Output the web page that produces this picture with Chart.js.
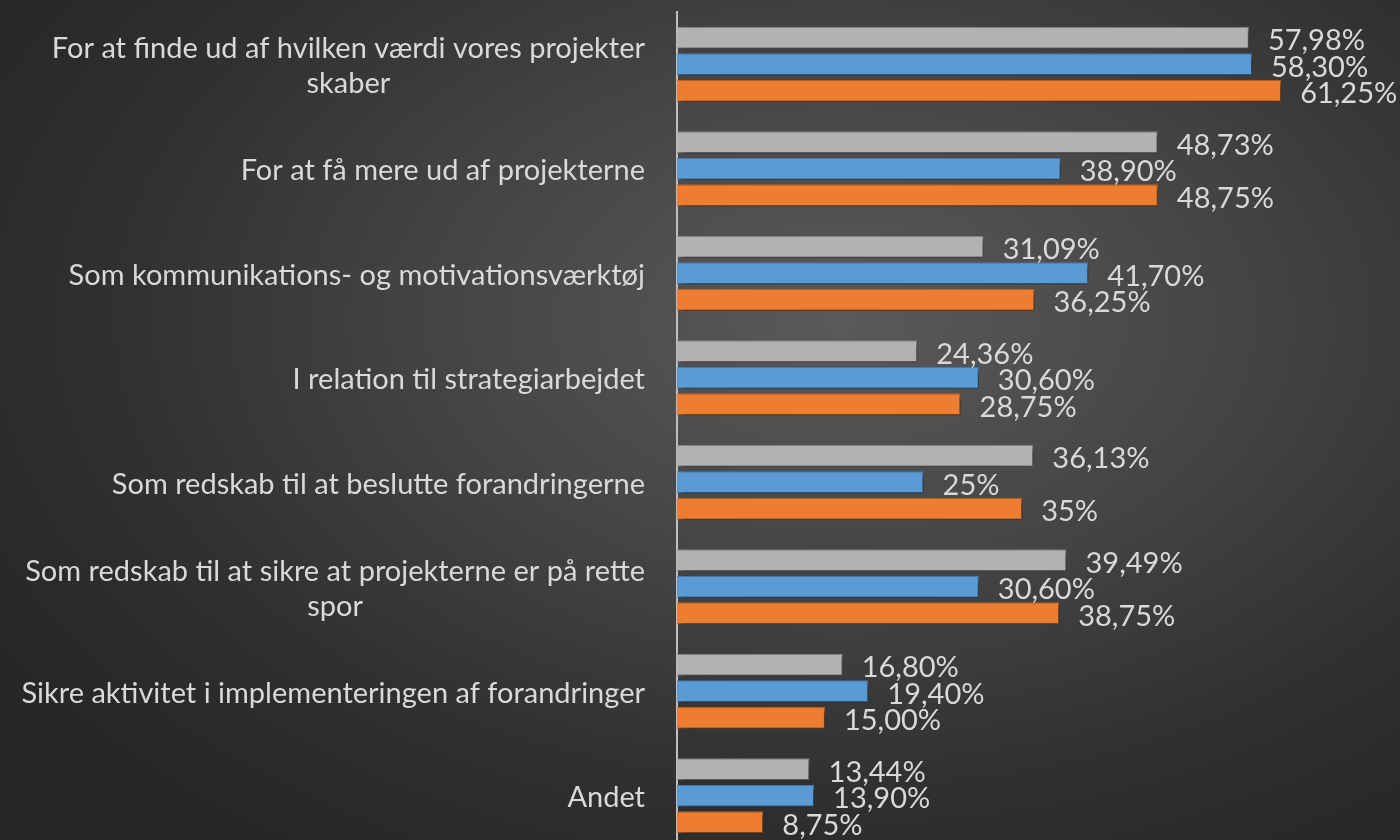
<!DOCTYPE html>
<html>
<head>
<meta charset="utf-8">
<script src="https://cdn.jsdelivr.net/npm/chart.js@4.4.1/dist/chart.umd.min.js"></script>
<style>
  html, body { margin: 0; padding: 0; overflow: hidden; }
  body {
    width: 1400px; height: 840px;
    background: radial-gradient(ellipse 70% 75% at 60% 38%, #5a5a5a 0%, #454545 40%, #303030 75%, #272727 100%);
  }
  #wrap { position: relative; width: 1400px; height: 860px; }
</style>
</head>
<body>
<div id="wrap"><canvas id="grafica"></canvas></div>
<script>
// Kategorier (flere linjer hvor teksten er ombrudt)
const kategorier = [
  ["For at finde ud af hvilken værdi vores projekter", "skaber"],
  ["For at få mere ud af projekterne"],
  ["Som kommunikations- og motivationsværktøj"],
  ["I relation til strategiarbejdet"],
  ["Som redskab til at beslutte forandringerne"],
  ["Som redskab til at sikre at projekterne er på rette", "spor"],
  ["Sikre aktivitet i implementeringen af forandringer"],
  ["Andet"]
];

// Værdier (procent)
const serieGraa = [57.98, 48.73, 31.09, 24.36, 36.13, 39.49, 16.80, 13.44];
const serieBlaa = [58.30, 38.90, 41.70, 30.60, 25, 30.60, 19.40, 13.90];
const serieOrange = [61.25, 48.75, 36.25, 28.75, 35, 38.75, 15.00, 8.75];

// Datalabels som de står i figuren
const labelsGraa = ["57,98%", "48,73%", "31,09%", "24,36%", "36,13%", "39,49%", "16,80%", "13,44%"];
const labelsBlaa = ["58,30%", "38,90%", "41,70%", "30,60%", "25%", "30,60%", "19,40%", "13,90%"];
const labelsOrange = ["61,25%", "48,75%", "36,25%", "28,75%", "35%", "38,75%", "15,00%", "8,75%"];

const skrift = "Lato, 'Open Sans', sans-serif";
const tekstFarve = "#d9d9d9";

// Skygge under søjlerne
const skyggePlugin = {
  id: 'skygge',
  beforeDatasetsDraw(chart) {
    const ctx = chart.ctx;
    ctx.save();
    ctx.shadowColor = 'rgba(0,0,0,0.65)';
    ctx.shadowBlur = 6;
    ctx.shadowOffsetX = 3;
    ctx.shadowOffsetY = 3;
  },
  afterDatasetsDraw(chart) {
    chart.ctx.restore();
  }
};

// Kategoritekster, centreret inden for blokken og højrestillet mod aksen
const kategoriPlugin = {
  id: 'kategorier',
  afterDraw(chart) {
    const ctx = chart.ctx;
    const y = chart.scales.y;
    ctx.save();
    ctx.font = "29px " + skrift;
    ctx.fillStyle = tekstFarve;
    ctx.textAlign = 'center';
    ctx.textBaseline = 'middle';
    const hoejre = chart.chartArea.left - 32;
    const linjeHoejde = 35;
    kategorier.forEach((linjer, i) => {
      const bredde = Math.max(...linjer.map(l => ctx.measureText(l).width));
      const cx = hoejre - bredde / 2;
      const cy = y.getPixelForTick(i);
      const start = cy - (linjer.length - 1) * linjeHoejde / 2 + 2;
      linjer.forEach((l, j) => ctx.fillText(l, cx, start + j * linjeHoejde));
    });
    ctx.restore();
  }
};

// Værdietiketter ud for søjlerne
const etiketPlugin = {
  id: 'etiketter',
  afterDatasetsDraw(chart) {
    const ctx = chart.ctx;
    ctx.save();
    ctx.font = "29px " + skrift;
    ctx.fillStyle = tekstFarve;
    ctx.textAlign = 'left';
    ctx.textBaseline = 'middle';
    chart.data.datasets.forEach((ds, di) => {
      chart.getDatasetMeta(di).data.forEach((bar, i) => {
        ctx.fillText(ds.etiketter[i], bar.x + 19, bar.y + 3);
      });
    });
    ctx.restore();
  }
};

new Chart(document.getElementById('grafica'), {
  type: 'bar',
  data: {
    labels: kategorier,
    datasets: [
      { label: 'Grå', data: serieGraa, etiketter: labelsGraa, backgroundColor: '#b2b2b2', borderColor: '#8f8f8f', borderWidth: 1 },
      { label: 'Blå', data: serieBlaa, etiketter: labelsBlaa, backgroundColor: '#5b9bd5', borderColor: '#4a86bd', borderWidth: 1 },
      { label: 'Orange', data: serieOrange, etiketter: labelsOrange, backgroundColor: '#ed7d31', borderColor: '#d06a24', borderWidth: 1 }
    ]
  },
  options: {
    indexAxis: 'y',
    responsive: true,
    maintainAspectRatio: false,
    animation: false,
    layout: { padding: { top: 12, bottom: 12, left: 0, right: 0 } },
    datasets: {
      bar: { categoryPercentage: 0.76, barPercentage: 0.83 }
    },
    plugins: {
      legend: { display: false },
      tooltip: { enabled: false }
    },
    scales: {
      x: {
        display: false,
        min: 0,
        max: 73.3
      },
      y: {
        afterFit(scale) { scale.width = 677; },
        grid: { display: false, drawTicks: false },
        border: { display: true, color: '#bfbfbf', width: 2 },
        ticks: { display: false }
      }
    }
  },
  plugins: [skyggePlugin, etiketPlugin, kategoriPlugin]
});
</script>
</body>
</html>
